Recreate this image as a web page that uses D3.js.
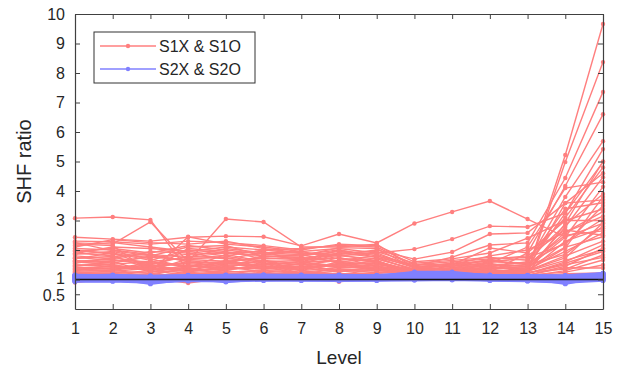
<!DOCTYPE html>
<html>
<head>
<meta charset="utf-8">
<script src="https://cdn.jsdelivr.net/npm/d3@7/dist/d3.min.js"></script>
<style>
  body { margin: 0; background: #fff; }
  text { font-family: "Liberation Sans", Arial, sans-serif; fill: #262626; }
</style>
</head>
<body>
<svg id="chart" width="622" height="372"></svg>
<script>
const levels = d3.range(1, 16);
const yTicks = [0.5, 1, 2, 3, 4, 5, 6, 7, 8, 9, 10];
const legendLabels = ["S1X & S1O", "S2X & S2O"];

// S1X & S1O (red)
const redSeries = [
  [3.08,3.12,3.02,1.30,1.55,1.45,1.35,1.50,1.40,1.30,1.45,1.55,1.30,5.22,9.66],
  [2.43,2.37,2.30,2.43,2.47,2.45,2.14,2.54,2.24,2.90,3.29,3.66,3.05,2.44,2.90],
  [2.24,2.20,2.95,1.60,3.05,2.95,2.10,2.10,2.20,1.40,1.55,1.45,1.25,4.98,8.37],
  [2.20,2.15,1.25,2.45,2.20,2.10,1.95,2.05,1.90,2.03,2.37,2.81,2.78,3.25,5.42],
  [2.10,2.35,2.25,2.20,2.30,2.05,1.90,1.85,2.00,1.69,1.93,2.54,2.58,3.59,4.60],
  [1.95,2.05,1.90,2.15,2.00,1.85,1.80,1.95,1.85,1.45,1.76,2.17,2.24,4.44,7.36],
  [1.90,1.80,1.35,2.05,1.95,1.70,1.75,1.80,1.70,1.35,1.50,2.07,1.90,4.17,6.60],
  [1.85,1.95,1.70,1.40,1.85,1.60,1.65,2.00,1.75,1.30,1.40,1.60,1.56,3.80,5.69],
  [1.80,1.70,1.95,1.90,1.70,1.90,1.95,1.70,1.60,1.25,1.30,1.50,1.45,3.25,4.98],
  [1.75,1.65,1.60,1.75,1.80,1.55,1.50,1.65,1.80,1.40,1.35,1.40,1.35,2.78,4.47],
  [1.70,1.90,1.45,1.55,1.60,1.75,1.85,1.55,1.55,1.20,1.30,1.35,1.40,2.44,4.14],
  [1.65,1.55,1.80,1.65,1.50,1.45,1.40,1.75,1.45,1.30,1.25,1.45,1.30,2.07,3.80],
  [1.60,1.50,1.30,1.70,1.75,1.50,1.60,1.45,1.65,1.15,1.35,1.30,1.20,2.90,5.00],
  [1.55,1.75,1.55,1.45,1.40,1.65,1.30,1.60,1.35,1.25,1.20,1.40,1.35,3.59,3.70],
  [1.50,1.45,1.40,1.30,1.65,1.35,1.55,1.40,1.50,1.35,1.25,1.25,1.90,3.00,3.39],
  [1.45,1.60,1.25,1.50,1.35,1.40,1.45,1.30,1.25,1.20,1.30,1.35,1.45,2.60,3.15],
  [1.40,1.35,1.50,1.25,1.45,1.25,1.35,1.55,1.40,1.10,1.15,1.20,1.30,1.73,2.92],
  [1.35,1.30,1.20,1.35,1.30,1.55,1.20,1.35,1.30,1.25,1.20,1.30,1.25,2.30,2.74],
  [1.30,1.40,1.35,1.20,1.25,1.30,1.40,1.25,1.45,1.15,1.10,1.25,1.35,1.95,2.58],
  [1.25,1.25,1.15,1.40,1.20,1.20,1.25,1.20,1.20,1.10,1.25,1.15,1.20,1.60,2.17],
  [1.20,1.20,1.30,1.15,1.30,1.15,1.30,1.15,1.25,1.20,1.15,1.20,1.15,1.45,2.06],
  [1.15,1.15,1.10,1.25,1.15,1.25,1.15,1.30,1.15,1.10,1.20,1.10,1.25,1.35,1.83],
  [1.10,1.10,1.20,1.10,1.10,1.10,1.10,1.10,1.10,1.15,1.10,1.15,1.10,1.30,1.66],
  [0.90,1.05,1.05,0.88,1.05,1.05,1.05,0.92,1.05,1.05,1.05,1.05,1.15,1.25,1.49],
  [2.00,1.85,1.75,1.85,1.90,1.80,1.70,1.90,1.95,1.55,1.65,1.75,1.65,2.85,3.90],
  [2.15,2.25,2.10,1.95,2.10,2.00,2.05,2.15,2.10,1.50,1.60,1.70,1.75,2.20,3.50],
  [1.98,1.90,1.65,2.00,1.90,1.95,1.60,1.90,1.75,1.45,1.45,1.65,1.50,1.85,2.80],
  [1.72,1.78,1.85,1.60,1.55,1.80,1.75,1.60,1.70,1.35,1.35,1.55,2.10,4.10,4.30],
  [1.62,1.68,1.50,1.80,1.70,1.65,1.55,1.85,1.60,1.30,1.40,1.45,1.60,3.40,3.60],
  [1.48,1.52,1.60,1.45,1.55,1.60,1.50,1.50,1.55,1.25,1.30,1.35,1.40,2.10,2.45],
  [1.38,1.45,1.40,1.60,1.40,1.35,1.45,1.45,1.35,1.20,1.25,1.30,1.30,1.80,2.30],
  [1.28,1.32,1.45,1.35,1.35,1.45,1.30,1.40,1.40,1.15,1.20,1.25,1.20,1.55,1.95],
  [1.18,1.22,1.25,1.30,1.25,1.30,1.25,1.35,1.30,1.20,1.15,1.20,1.15,1.40,1.39],
  [1.12,1.18,1.15,1.20,1.20,1.20,1.20,1.20,1.20,1.10,1.10,1.10,1.10,1.20,1.22],
  [2.30,2.28,2.20,2.30,2.25,2.15,2.00,2.20,2.15,1.60,1.70,1.90,2.40,3.00,3.00],
  [2.05,2.00,1.85,1.75,2.05,1.90,1.85,2.00,1.80,1.50,1.50,1.80,2.00,2.60,3.30],
  [1.58,1.62,1.75,1.68,1.62,1.72,1.68,1.72,1.62,1.28,1.38,1.50,1.55,2.25,3.05],
  [1.42,1.38,1.55,1.48,1.58,1.48,1.62,1.62,1.48,1.18,1.28,1.40,1.50,2.50,2.65],
  [1.32,1.48,1.32,1.42,1.48,1.52,1.40,1.48,1.58,1.22,1.22,1.28,1.28,1.65,2.00],
  [1.22,1.28,1.38,1.28,1.40,1.38,1.52,1.28,1.35,1.12,1.18,1.22,1.22,1.50,1.75],
  [1.88,2.10,2.05,1.95,1.80,2.00,1.88,1.80,1.90,1.42,1.55,1.62,1.70,3.10,4.80],
  [2.25,1.98,1.80,2.10,2.15,1.78,1.80,2.08,2.05,1.38,1.48,1.68,1.80,2.68,2.50]
];

// S2X & S2O (blue)
const blueSeries = [
  [1.08,1.06,1.02,1.05,1.10,1.10,1.08,1.10,1.08,1.12,1.15,1.10,1.08,1.05,1.12],
  [1.05,1.04,0.86,1.02,1.08,1.08,1.06,1.08,1.06,1.18,1.22,1.08,1.06,1.02,1.15],
  [1.02,1.08,1.05,1.08,1.06,1.05,1.04,1.06,1.04,1.10,1.12,1.06,1.04,0.86,1.10],
  [1.10,1.02,1.00,1.00,1.12,1.12,1.10,1.12,1.10,1.25,1.25,1.12,1.10,1.08,1.18],
  [0.98,1.00,0.98,1.04,0.92,1.02,1.02,1.04,1.02,1.08,1.10,1.04,1.02,1.00,1.08],
  [1.06,1.10,1.06,1.06,1.05,1.06,1.00,1.02,1.00,1.06,1.08,1.02,1.00,1.04,1.05],
  [1.12,1.06,1.08,1.10,1.04,1.04,1.06,1.00,1.06,1.04,1.06,1.00,1.08,1.02,1.02],
  [0.95,0.96,0.92,0.98,1.02,1.00,0.98,0.98,0.98,1.02,1.04,0.98,0.96,0.92,1.00],
  [1.04,1.02,1.04,1.02,1.08,1.08,1.08,1.06,1.04,1.14,1.18,1.06,1.05,1.06,1.14],
  [1.00,0.98,1.00,0.96,1.00,0.98,1.00,1.02,1.00,1.04,1.02,1.02,1.02,0.98,0.98],
  [1.14,1.12,1.10,1.12,1.14,1.14,1.12,1.14,1.12,1.16,1.20,1.14,1.12,1.10,1.16],
  [1.07,1.05,1.03,1.07,1.06,1.07,1.05,1.07,1.05,1.09,1.13,1.08,1.06,1.03,1.07],
  [0.97,1.03,0.95,1.00,0.96,1.01,1.03,1.01,1.03,1.00,1.00,1.01,0.98,0.95,1.03],
  [1.09,1.08,1.07,1.03,1.09,1.09,1.07,1.09,1.09,1.20,1.16,1.09,1.09,1.07,1.20],
  [1.01,1.00,1.01,1.08,1.03,1.03,1.09,1.05,1.07,1.06,1.09,1.03,1.03,1.01,1.06],
  [1.11,1.09,1.09,1.09,1.11,1.11,1.11,1.11,1.11,1.14,1.14,1.11,1.11,1.09,1.09],
  [1.15,1.13,1.12,1.13,1.15,1.16,1.14,1.15,1.13,1.18,1.22,1.15,1.13,1.12,1.19],
  [0.93,0.94,0.90,0.96,0.94,0.97,0.97,0.96,0.97,0.98,0.99,0.97,0.95,0.90,0.97],
  [1.13,1.15,1.11,1.14,1.13,1.13,1.15,1.13,1.14,1.22,1.19,1.13,1.14,1.13,1.21],
  [0.99,0.97,0.97,1.06,0.98,1.00,1.01,0.99,1.01,1.03,1.05,1.00,1.00,0.97,1.04]
];

const svg = d3.select("#chart");
const margin = { left: 75, right: 19, top: 14, bottom: 62 };
const W = 622, H = 372;
const x = d3.scaleLinear().domain([1, 15]).range([margin.left, W - margin.right]);
const y = d3.scaleLinear().domain([0, 10]).range([H - margin.bottom - 1, margin.top]);

const axisColor = "#404040";
const redColor = "#ff7f7f";
const blueColor = "#8080ff";

const line = d3.line()
  .x((d, i) => x(levels[i]))
  .y(d => y(d));

function drawSeries(data, color, width, r) {
  const g = svg.append("g");
  g.selectAll("path")
    .data(data)
    .join("path")
    .attr("d", line)
    .attr("fill", "none")
    .attr("stroke", color)
    .attr("stroke-width", width);
  g.selectAll("g.pts")
    .data(data)
    .join("g")
    .selectAll("circle")
    .data(d => d)
    .join("circle")
    .attr("cx", (d, i) => x(levels[i]))
    .attr("cy", d => y(d))
    .attr("r", r)
    .attr("fill", color);
}

drawSeries(redSeries, redColor, 1.4, 2.2);
drawSeries(blueSeries, blueColor, 2.6, 2.6);

// reference line at ratio 1
svg.append("line")
  .attr("x1", x(1)).attr("x2", x(15))
  .attr("y1", y(1)).attr("y2", y(1))
  .attr("stroke", "#111")
  .attr("stroke-width", 1.3);

// axes, ticks pointing inward
const axBottom = svg.append("g")
  .attr("transform", `translate(0,${y(0)})`)
  .call(d3.axisBottom(x).tickValues(levels).tickSizeInner(-5).tickSizeOuter(0).tickPadding(14));
const axTop = svg.append("g")
  .attr("transform", `translate(0,${y(10)})`)
  .call(d3.axisTop(x).tickValues(levels).tickSizeInner(-5).tickSizeOuter(0).tickFormat(""));
const axLeft = svg.append("g")
  .attr("transform", `translate(${x(1)},0)`)
  .call(d3.axisLeft(y).tickValues(yTicks).tickSizeInner(-5).tickSizeOuter(0).tickPadding(10)
    .tickFormat(d => d));
const axRight = svg.append("g")
  .attr("transform", `translate(${x(15)},0)`)
  .call(d3.axisRight(y).tickValues(yTicks).tickSizeInner(-5).tickSizeOuter(0).tickFormat(""));

[axBottom, axTop, axLeft, axRight].forEach(a => {
  a.selectAll("path.domain").attr("stroke", axisColor).attr("stroke-width", 1.2);
  a.selectAll(".tick line").attr("stroke", axisColor).attr("stroke-width", 1);
  a.selectAll(".tick text")
    .attr("fill", "#262626")
    .style("font-family", "'Liberation Sans', Arial, sans-serif")
    .style("font-size", "16px");
});
// "1" and "0.5" sit very close together, as in the original
axLeft.selectAll(".tick text")
  .filter(d => d === 1).attr("dy", "0.22em");
axLeft.selectAll(".tick text")
  .filter(d => d === 0.5).attr("dy", "0.42em");

svg.append("text")
  .attr("x", (x(1) + x(15)) / 2)
  .attr("y", 364)
  .attr("text-anchor", "middle")
  .style("font-size", "19px")
  .text("Level");

svg.append("text")
  .attr("transform", `translate(31,${(y(0) + y(10)) / 2}) rotate(-90)`)
  .attr("text-anchor", "middle")
  .style("font-size", "20px")
  .text("SHF ratio");

// legend
const lg = svg.append("g");
lg.append("rect")
  .attr("x", 94).attr("y", 32).attr("width", 161).attr("height", 51)
  .attr("fill", "#fff").attr("stroke", "#333").attr("stroke-width", 1);
const legendColors = [redColor, blueColor];
legendLabels.forEach((label, i) => {
  const ly = 46 + i * 23;
  lg.append("line")
    .attr("x1", 100).attr("x2", 156).attr("y1", ly).attr("y2", ly)
    .attr("stroke", legendColors[i]).attr("stroke-width", 1.3);
  lg.append("circle").attr("cx", 128).attr("cy", ly).attr("r", 2.2).attr("fill", legendColors[i]);
  lg.append("text")
    .attr("x", 159).attr("y", ly + 6)
    .style("font-size", "16px")
    .text(label);
});
</script>
</body>
</html>
